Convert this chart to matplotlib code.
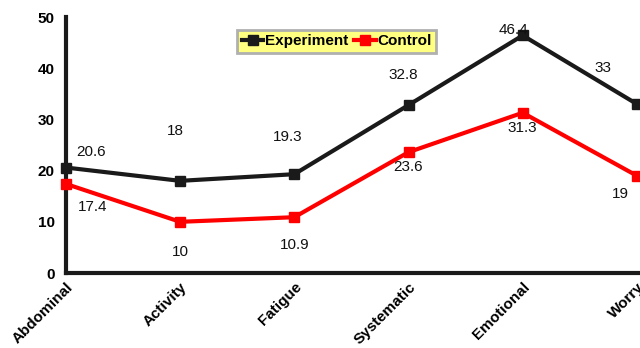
import matplotlib.pyplot as plt

# --- data --- #
domains = ["Abdominal", "Activity", "Fatigue", "Systematic", "Emotional", "Worry"]
experiment = [20.6, 18, 19.3, 32.8, 46.4, 33]
control = [17.4, 10, 10.9, 23.6, 31.3, 19]

# label offsets in points (dx, dy), one per point
exp_offsets = [(18, 11), (-3.6, 36), (-5, 27), (-3.6, 21.6), (-6.5, 4), (-24.5, 26)]
ctl_offsets = [(19, -16.5), (0, -21.6), (0, -20), (0, -11), (0, -11), (-12, -13)]

plt.rcParams['font.family'] = ['Liberation Sans', 'DejaVu Sans']

fig = plt.figure(figsize=(6.4, 3.48), dpi=100)
ax = fig.add_axes([0.103, 0.2155, 0.8975, 0.7356])

x = list(range(len(domains)))
ax.plot(x, experiment, color="#1a1a1a", lw=3, marker="s", ms=7, label="Experiment", clip_on=False, zorder=3)
ax.plot(x, control, color="#ff0000", lw=3, marker="s", ms=7, label="Control", clip_on=False, zorder=3)

for xi, v, (dx, dy) in zip(x, experiment, exp_offsets):
    ax.annotate(f"{v:g}", (xi, v), xytext=(dx, dy), textcoords="offset points",
                ha="center", va="center", fontsize=11, color="#111111")
for xi, v, (dx, dy) in zip(x, control, ctl_offsets):
    ax.annotate(f"{v:g}", (xi, v), xytext=(dx, dy), textcoords="offset points",
                ha="center", va="center", fontsize=11, color="#111111")

ax.set_xlim(0, 5.03)
ax.set_ylim(0, 50)
ax.set_yticks([0, 10, 20, 30, 40, 50])
ax.set_xticks(x)
ax.set_xticklabels(domains, rotation=45, ha="right", rotation_mode="anchor",
                   fontsize=11, fontweight="bold")
for lab in ax.get_yticklabels():
    lab.set_fontsize(11)
    lab.set_fontweight("bold")
ax.tick_params(axis="y", length=0, pad=8)
ax.tick_params(axis="x", length=0, pad=5)

for side in ("top", "right"):
    ax.spines[side].set_visible(False)
for side in ("left", "bottom"):
    ax.spines[side].set_linewidth(3)
    ax.spines[side].set_color("#1a1a1a")

leg = ax.legend(loc="upper left", bbox_to_anchor=(0.285, 0.98), ncol=2,
                frameon=True, fancybox=False, handlelength=1.4,
                handletextpad=0.1, columnspacing=0.4, borderpad=0.3,
                prop={"weight": "bold", "size": 11})
leg.get_frame().set_facecolor("#ffff80")
leg.get_frame().set_edgecolor("#b0b0b0")
leg.get_frame().set_linewidth(2)
leg.get_frame().set_alpha(1)

fig.savefig("out.png", dpi=100)
